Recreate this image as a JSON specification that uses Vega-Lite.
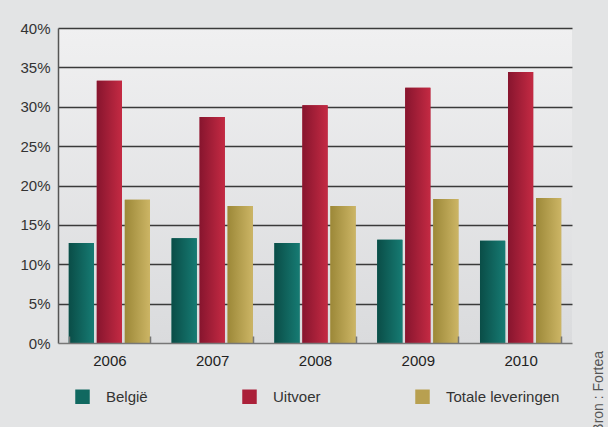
{
  "$schema": "https://vega.github.io/schema/vega-lite/v6.json",
  "width": 514,
  "height": 315,
  "autosize": {"type": "none"},
  "padding": {"left": 58, "top": 28, "right": 36, "bottom": 84},
  "background": "#e3e4e5",
  "title": {"text": "Bron : Fortea", "orient": "right", "angle": -90, "anchor": "end", "frame": "group", "fontSize": 14, "fontWeight": "normal", "color": "#555555", "font": "Liberation Sans", "offset": 6, "dx": -8},
  "data": {"values": [
    {"jaar": "2006", "reeks": "België", "aandeel": 0.127},
    {"jaar": "2006", "reeks": "Uitvoer", "aandeel": 0.333},
    {"jaar": "2006", "reeks": "Totale leveringen", "aandeel": 0.182},
    {"jaar": "2007", "reeks": "België", "aandeel": 0.133},
    {"jaar": "2007", "reeks": "Uitvoer", "aandeel": 0.287},
    {"jaar": "2007", "reeks": "Totale leveringen", "aandeel": 0.174},
    {"jaar": "2008", "reeks": "België", "aandeel": 0.127},
    {"jaar": "2008", "reeks": "Uitvoer", "aandeel": 0.302},
    {"jaar": "2008", "reeks": "Totale leveringen", "aandeel": 0.174},
    {"jaar": "2009", "reeks": "België", "aandeel": 0.131},
    {"jaar": "2009", "reeks": "Uitvoer", "aandeel": 0.324},
    {"jaar": "2009", "reeks": "Totale leveringen", "aandeel": 0.183},
    {"jaar": "2010", "reeks": "België", "aandeel": 0.130},
    {"jaar": "2010", "reeks": "Uitvoer", "aandeel": 0.344},
    {"jaar": "2010", "reeks": "Totale leveringen", "aandeel": 0.184}
  ]},
  "encoding": {
    "x": {"field": "jaar", "type": "nominal", "scale": {"paddingInner": 0.21, "paddingOuter": 0.105},
      "axis": {"title": null, "labelAngle": 0, "labelFontSize": 15, "labelColor": "#222222", "labelFont": "Liberation Sans", "domainColor": "#777777", "domainWidth": 1.5, "tickColor": "#777777", "tickWidth": 1.5, "tickSize": -7, "tickBand": "extent", "labelPadding": 17, "zindex": 2}},
    "xOffset": {"field": "reeks", "type": "nominal", "sort": ["België", "Uitvoer", "Totale leveringen"], "scale": {"paddingInner": 0.1, "paddingOuter": 0}},
    "y": {"field": "aandeel", "type": "quantitative", "scale": {"domain": [0, 0.4], "nice": false},
      "axis": {"title": null, "format": ".0%", "values": [0, 0.05, 0.1, 0.15, 0.2, 0.25, 0.3, 0.35, 0.4], "labelFontSize": 15, "labelColor": "#333333", "labelFont": "Liberation Sans", "ticks": false, "labelPadding": 8, "domainColor": "#555555", "domainWidth": 1.5, "gridColor": {"condition": {"test": "datum.value === 0", "value": "transparent"}, "value": "#3a3a3a"}, "gridWidth": 1.5, "gridOpacity": 1}}
  },
  "layer": [
    {
      "mark": {"type": "bar"},
      "encoding": {
        "color": {"field": "reeks", "type": "nominal", "sort": ["België", "Uitvoer", "Totale leveringen"],
          "scale": {"domain": ["België", "Uitvoer", "Totale leveringen"], "range": ["#106860", "#ab2039", "#b8a050"]},
          "legend": {"title": null, "orient": "none", "legendX": 17, "legendY": 361, "direction": "horizontal", "symbolType": "square", "symbolSize": 210, "symbolStrokeWidth": 0, "labelFontSize": 15, "labelColor": "#333333", "labelFont": "Liberation Sans", "labelOffset": 16, "columnPadding": 94}}
      }
    },
    {
      "transform": [{"filter": "datum.reeks === 'België'"}],
      "mark": {"type": "bar", "color": {"gradient": "linear", "x1": 0, "y1": 0, "x2": 1, "y2": 0, "stops": [{"offset": 0, "color": "#0a4d47"}, {"offset": 1, "color": "#167b73"}]}}
    },
    {
      "transform": [{"filter": "datum.reeks === 'Uitvoer'"}],
      "mark": {"type": "bar", "color": {"gradient": "linear", "x1": 0, "y1": 0, "x2": 1, "y2": 0, "stops": [{"offset": 0, "color": "#87152e"}, {"offset": 1, "color": "#c42a43"}]}}
    },
    {
      "transform": [{"filter": "datum.reeks === 'Totale leveringen'"}],
      "mark": {"type": "bar", "color": {"gradient": "linear", "x1": 0, "y1": 0, "x2": 1, "y2": 0, "stops": [{"offset": 0, "color": "#9c8838"}, {"offset": 1, "color": "#ccb565"}]}}
    }
  ],
  "config": {
    "view": {"stroke": null, "fill": {"gradient": "linear", "x1": 0, "y1": 0, "x2": 0, "y2": 1, "stops": [{"offset": 0, "color": "#f0f0f1"}, {"offset": 1, "color": "#dadbdd"}]}},
    "font": "Liberation Sans"
  }
}
